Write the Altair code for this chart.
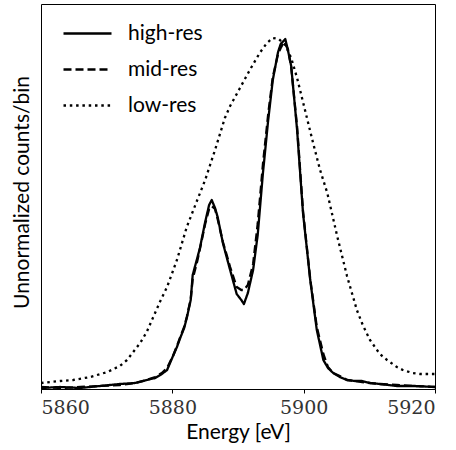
import altair as alt
import pandas as pd

# high-res spectrum (energy in eV, counts in arbitrary units)
hi_energy = [5860.0, 5862.9, 5865.9, 5869.0, 5872.0, 5874.3, 5876.1, 5877.4, 5878.4, 5879.2,
             5880.1, 5880.7, 5881.2, 5881.8, 5882.2, 5882.8, 5883.1, 5883.8, 5884.2, 5885.0,
             5885.6, 5886.0, 5886.5, 5886.9, 5887.7, 5888.8, 5889.8, 5890.5, 5890.9, 5891.5,
             5892.3, 5893.0, 5893.8, 5894.6, 5895.3, 5896.1, 5896.5, 5897.2, 5897.6, 5898.1,
             5899.0, 5899.9, 5901.0, 5902.0, 5903.0, 5903.7, 5904.5, 5905.5, 5906.6, 5907.8,
             5908.9, 5910.1, 5911.6, 5914.2, 5917.0, 5920.0]
hi_counts = [1, 2, 1, 3, 5, 6, 9, 11, 15, 19,
             33, 42, 51, 61, 71, 89, 114, 131, 141, 167,
             184, 189, 181, 172, 146, 119, 95, 89, 85, 96,
             119, 154, 216, 269, 309, 337, 345, 350, 339, 323,
             259, 176, 109, 59, 29, 21, 16, 12, 9, 8,
             8, 6, 5, 3, 3, 2]

# mid-res spectrum
mid_energy = [5860.0, 5863.0, 5866.0, 5869.0, 5872.0, 5874.3, 5876.1, 5877.4, 5878.4, 5879.2,
              5880.1, 5880.7, 5881.2, 5881.8, 5882.2, 5882.8, 5883.1, 5883.8, 5884.2, 5885.0,
              5885.6, 5886.0, 5886.5, 5886.9, 5887.7, 5888.8, 5889.8, 5890.5, 5890.9, 5891.5,
              5892.3, 5893.0, 5893.8, 5894.6, 5895.3, 5896.1, 5896.5, 5897.0, 5897.6, 5898.1,
              5899.0, 5899.9, 5901.0, 5902.0, 5903.0, 5903.7, 5904.5, 5905.5, 5906.6, 5907.8,
              5908.9, 5910.1, 5911.6, 5914.2, 5917.0, 5920.0]
mid_counts = [2, 1, 2, 3, 4, 6, 9, 12, 16, 21,
              33, 43, 52, 62, 72, 90, 110, 128, 140, 165,
              180, 183, 180, 170, 147, 122, 102, 99, 99, 104,
              125, 165, 225, 275, 312, 335, 341, 347, 340, 322,
              262, 178, 110, 62, 35, 22, 16, 13, 9, 8,
              7, 6, 5, 4, 3, 2]

# low-res spectrum
lo_energy = [5860.0, 5862.9, 5864.9, 5867.5, 5870.1, 5872.0, 5873.1, 5875.1, 5876.1, 5877.1,
             5878.1, 5879.2, 5880.7, 5882.2, 5883.8, 5885.0, 5885.7, 5886.5, 5887.3, 5888.0,
             5888.8, 5890.3, 5891.8, 5893.3, 5894.4, 5895.3, 5896.2, 5897.2, 5898.1, 5899.0,
             5900.2, 5901.4, 5902.5, 5903.6, 5905.1, 5906.6, 5908.1, 5909.0, 5910.1, 5911.6,
             5912.7, 5914.2, 5915.1, 5916.6, 5917.7, 5920.0]
lo_counts = [6, 8, 9, 12, 17, 23, 29, 46, 57, 72,
             87, 102, 129, 162, 189, 209, 223, 239, 256, 271,
             283, 301, 319, 336, 346, 351, 350, 344, 331, 311,
             279, 247, 219, 196, 153, 113, 79, 64, 49, 35,
             29, 22, 19, 16, 15, 15]

series_names = ["high-res", "mid-res", "low-res"]
x_ticks = [5860, 5880, 5900, 5920]

frames = []
for name, e, c in [(series_names[0], hi_energy, hi_counts),
                   (series_names[1], mid_energy, mid_counts),
                   (series_names[2], lo_energy, lo_counts)]:
    frames.append(pd.DataFrame({"energy": e, "counts": c, "series": name,
                                "order": range(len(e))}))
df = pd.concat(frames, ignore_index=True)

SANS = "Lato"
SERIF = "DejaVu Serif"

chart = alt.Chart(df).mark_line(color="black", strokeWidth=2.3, strokeCap="butt",
                                strokeJoin="round", clip=True).encode(
    x=alt.X("energy:Q",
            scale=alt.Scale(domain=[5860, 5920], nice=False, zero=False),
            axis=alt.Axis(title="Energy [eV]", values=x_ticks, format="d", grid=False,
                          labelFont=SERIF, labelFontSize=19, labelColor="#333333",
                          labelPadding=5, tickSize=4, tickColor="black", tickWidth=1,
                          domainColor="black", domainWidth=1,
                          titleFont=SANS, titleFontSize=21, titleFontWeight="normal",
                          titleColor="black", titlePadding=4)),
    y=alt.Y("counts:Q",
            scale=alt.Scale(domain=[0, 385], nice=False, zero=False),
            axis=alt.Axis(title="Unnormalized counts/bin", labels=False, ticks=False,
                          domain=False, grid=False, titleY=188,
                          titleFont=SANS, titleFontSize=21, titleFontWeight="normal",
                          titleColor="black", titlePadding=9)),
    strokeDash=alt.StrokeDash("series:N",
                              scale=alt.Scale(domain=series_names,
                                              range=[[1, 0], [8, 4], [2.5, 3.8]]),
                              legend=alt.Legend(title=None, orient="none",
                                                legendX=21, legendY=4,
                                                symbolType="stroke", symbolSize=2304,
                                                symbolStrokeWidth=2.3, symbolStrokeColor="black",
                                                labelFont=SANS, labelFontSize=21,
                                                labelColor="black", labelOffset=15,
                                                rowPadding=-1, padding=0)),
    detail="series:N",
    order="order:Q",
).properties(
    width=394, height=385,
    background="white",
    autosize=alt.AutoSizeParams(type="none"),
    padding={"left": 41, "top": 4, "right": 21, "bottom": 61},
).configure_view(
    stroke="black", strokeWidth=1
)

chart.save("out.html", embed_options={"renderer": "svg", "actions": False})
